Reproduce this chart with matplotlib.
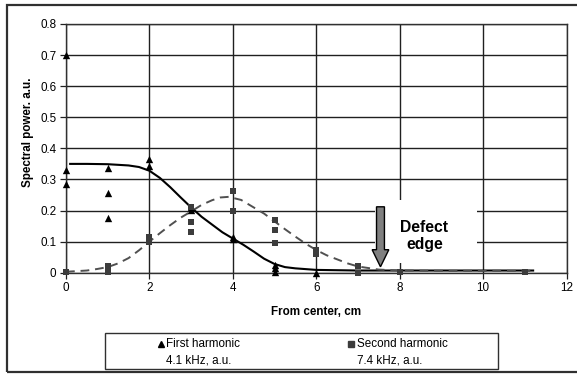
import matplotlib
matplotlib.use("Agg")
import matplotlib.pyplot as plt
from matplotlib.patches import Rectangle, FancyArrow
from matplotlib.lines import Line2D

plt.rcParams['font.family'] = ['Liberation Sans', 'DejaVu Sans']

# ---- data ----
first_x = [0, 0, 0, 1, 1, 1, 2, 2, 3, 3, 4, 4, 5, 5, 5, 6]
first_y = [0.70, 0.33, 0.284, 0.336, 0.255, 0.177, 0.365, 0.343, 0.212, 0.202,
           0.114, 0.107, 0.025, 0.014, 0.003, 0.0]

second_x = [0, 1, 1, 2, 2, 3, 3, 3, 4, 4, 5, 5, 5, 6, 6, 7, 7, 8, 11]
second_y = [0.003, 0.022, 0.003, 0.114, 0.10, 0.212, 0.164, 0.132, 0.264, 0.198,
            0.17, 0.137, 0.097, 0.073, 0.06, 0.022, 0.0, 0.003, 0.003]

fit1_x = [0.1, 0.5, 1, 1.5, 1.75, 2, 2.25, 2.5, 2.75, 3, 3.25, 3.5, 3.75, 4,
          4.25, 4.5, 4.75, 5, 5.25, 5.5, 6, 6.5, 7, 8, 9, 10, 11.2]
fit1_y = [0.35, 0.35, 0.349, 0.345, 0.34, 0.328, 0.305, 0.275, 0.242, 0.21,
          0.18, 0.155, 0.13, 0.11, 0.09, 0.068, 0.045, 0.028, 0.018, 0.014,
          0.009, 0.008, 0.007, 0.007, 0.007, 0.007, 0.007]

fit2_x = [0, 0.5, 0.75, 1, 1.25, 1.5, 1.75, 2, 2.25, 2.5, 2.75, 3, 3.25, 3.5,
          3.7, 3.9, 4.2, 4.5, 4.75, 5, 5.25, 5.5, 5.75, 6, 6.25, 6.5, 6.75, 7,
          7.5, 8, 9, 10, 11.2]
fit2_y = [0.003, 0.007, 0.012, 0.018, 0.03, 0.047, 0.072, 0.10, 0.127, 0.153,
          0.177, 0.197, 0.218, 0.233, 0.242, 0.244, 0.234, 0.21, 0.19, 0.165,
          0.14, 0.116, 0.093, 0.073, 0.056, 0.043, 0.03, 0.02, 0.01, 0.007,
          0.006, 0.006, 0.006]

x_ticks = [0, 2, 4, 6, 8, 10, 12]
y_ticks = [0, 0.1, 0.2, 0.3, 0.4, 0.5, 0.6, 0.7, 0.8]
y_tick_labels = ['0', '0.1', '0.2', '0.3', '0.4', '0.5', '0.6', '0.7', '0.8']

W, H = 577, 374
fig = plt.figure(figsize=(W / 100, H / 100), dpi=100)

def fx(px):
    return px / W

def fy(py):
    return 1 - py / H

FS = 8.4
ax = fig.add_axes([fx(66), fy(272.7), fx(566.5) - fx(66), fy(24) - fy(272.7)])
ax.set_xlim(0, 12)
ax.set_ylim(0, 0.8)
ax.set_xticks(x_ticks)
ax.set_yticks(y_ticks)
ax.set_yticklabels(y_tick_labels)
ax.grid(True, color='#202020', lw=1.0, zorder=0)
ax.set_axisbelow(True)
for s in ax.spines.values():
    s.set_color('#303030')
    s.set_linewidth(1.0)
ax.tick_params(direction='out', length=4, width=0.9, color='#202020',
               labelsize=FS, pad=3)

# white box behind text
ax.add_patch(Rectangle((7.4, 0.03), 2.45, 0.203, facecolor='white',
                       edgecolor='none', zorder=1.5))

ax.plot(fit1_x, fit1_y, color='black', lw=1.5, zorder=3, clip_on=False)
ax.plot(fit2_x, fit2_y, color='#505050', lw=1.4, ls=(0, (4.5, 3)), zorder=3,
        clip_on=False)
ax.scatter(first_x, first_y, marker='^', s=28, color='black', zorder=4,
           clip_on=False, linewidths=0)
ax.scatter(second_x, second_y, marker='s', s=24, color='#3c3c3c', zorder=4,
           clip_on=False, linewidths=0)

ax.add_patch(FancyArrow(7.54, 0.212, 0, -0.193, width=0.19, head_width=0.40,
                        head_length=0.055, length_includes_head=True,
                        facecolor='#808080', edgecolor='black', lw=1.0,
                        zorder=5))
ax.text(8.59, 0.118, 'Defect\nedge', ha='center', va='center',
        fontsize=11.3, fontweight='bold', linespacing=1.15, zorder=6)

fig.text(fx(316), fy(312), 'From center, cm', fontsize=FS, fontweight='bold',
         ha='center', va='center')
fig.text(fx(28), fy(132), 'Spectral power. a.u.', fontsize=FS,
         fontweight='bold', rotation=90, ha='center', va='center')

# legend box
fig.patches.append(Rectangle((fx(105), fy(369)), fx(498) - fx(105),
                             fy(333) - fy(369), transform=fig.transFigure,
                             facecolor='white', edgecolor='#303030', lw=1.0))
fig.lines.append(Line2D([fx(161)], [fy(344)], transform=fig.transFigure,
                        marker='^', markersize=5, color='black', ls='none'))
fig.text(fx(166.5), fy(344), 'First harmonic', fontsize=FS, ha='left',
         va='center')
fig.text(fx(166.5), fy(360.7), '4.1 kHz, a.u.', fontsize=FS, ha='left',
         va='center')
fig.lines.append(Line2D([fx(351)], [fy(344)], transform=fig.transFigure,
                        marker='s', markersize=4.3, color='#3c3c3c', ls='none'))
fig.text(fx(357), fy(344), 'Second harmonic', fontsize=FS, ha='left',
         va='center')
fig.text(fx(357), fy(360.7), '7.4 kHz, a.u.', fontsize=FS, ha='left',
         va='center')

# outer frame
fig.patches.append(Rectangle((fx(7), fy(372)), fx(585) - fx(7),
                             fy(5) - fy(372), transform=fig.transFigure,
                             facecolor='none', edgecolor='#303030', lw=1.6))

fig.savefig('out.png', dpi=100)
